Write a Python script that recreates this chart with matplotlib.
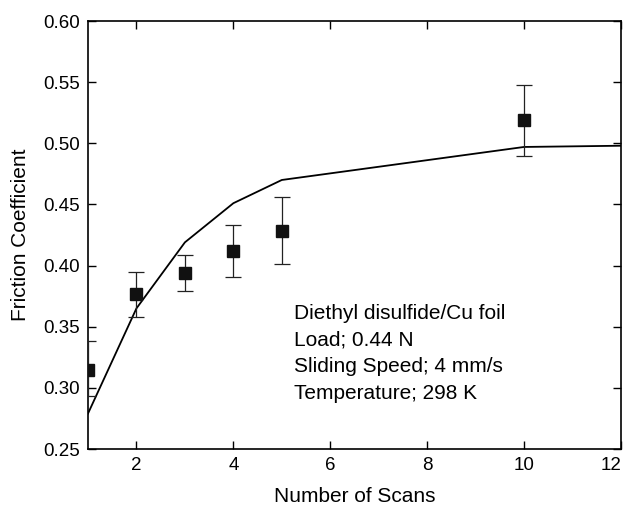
import matplotlib
matplotlib.use("Agg")
from matplotlib import pyplot as plt
import numpy as np

plt.rcParams['font.family'] = ['Liberation Sans', 'DejaVu Sans']

# measured points with error bars
scans = [1, 2, 3, 4, 5, 10]
friction = [0.315, 0.377, 0.394, 0.412, 0.428, 0.519]
err_low = [0.293, 0.358, 0.379, 0.391, 0.401, 0.490]
err_high = [0.338, 0.395, 0.409, 0.433, 0.456, 0.548]

# model curve
curve_x = [1, 2, 3, 4, 5, 10, 12]
curve_y = [0.279, 0.365, 0.419, 0.451, 0.470, 0.497, 0.498]

notes = ["Diethyl disulfide/Cu foil", "Load; 0.44 N",
         "Sliding Speed; 4 mm/s", "Temperature; 298 K"]

fig = plt.figure(figsize=(6.28, 5.07), dpi=100)
ax = fig.add_axes([88/628, 1-449/507, (621-88)/628, (449-21)/507])

f = np.array(friction)
yerr = [f - np.array(err_low), np.array(err_high) - f]
ax.errorbar(scans, friction, yerr=yerr, fmt='s', color='#111111', ecolor='#222222',
            elinewidth=0.9, capsize=6, capthick=0.9, markersize=8, zorder=3)
ax.plot(curve_x, curve_y, color='black', linewidth=1.3, zorder=2)

ax.set_xlim(1, 12)
ax.set_ylim(0.25, 0.60)
ax.set_xticks([2, 4, 6, 8, 10, 12])
ax.set_yticks(np.arange(0.25, 0.601, 0.05))
ax.set_yticklabels(["%.2f" % v for v in np.arange(0.25, 0.601, 0.05)])
ax.tick_params(direction='in', length=6, width=1, labelsize=13.5,
               top=True, right=True, pad=6)
for s in ax.spines.values():
    s.set_linewidth(1.2)
# last x label sits at the figure edge, keep it inside
ax.get_xticklabels()[-1].set_horizontalalignment('right')

ax.set_xlabel("Number of Scans", fontsize=15, labelpad=9)
ax.set_ylabel("Friction Coefficient", fontsize=15, labelpad=9)

for i, t in enumerate(notes):
    ax.text(5.25, 0.361 - i * 0.0218, t, fontsize=15, va='center', ha='left')

fig.savefig("out.png", dpi=100)
